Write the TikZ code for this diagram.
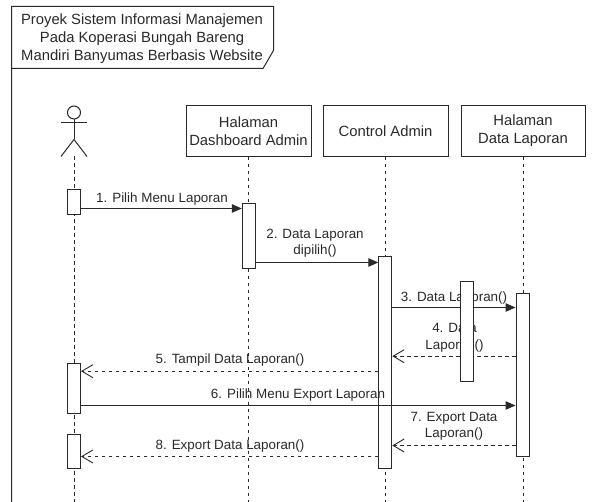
\documentclass[tikz,border=0pt]{standalone}
\usepackage{fontspec}
\setmainfont{Liberation Sans}
\usetikzlibrary{arrows.meta}
\definecolor{ink}{HTML}{2A2A2A}
\tikzset{
  x=1pt,y=-1pt,
  head/.style={draw=ink,line width=1pt,fill=white,inner sep=0pt,align=center,text=ink,font=\fontsize{14.8}{18}\selectfont},
  act/.style={draw=ink,line width=1pt,fill=white,inner sep=0pt,minimum width=13pt},
  life/.style={draw=ink,line width=1pt,dash pattern=on 3.5pt off 3.5pt},
  syncmsg/.style={draw=ink,line width=1pt,-{Triangle[length=10pt,width=8.5pt,fill=ink]}},
  retmsg/.style={draw=ink,line width=0.9pt,dash pattern=on 3.5pt off 3.5pt,-{Straight Barb[length=11pt,width=13pt,line width=0.9pt]}},
  lbl/.style={inner sep=0pt,align=center,text=ink,font=\fontsize{13.4}{16.5}\selectfont},
  frametxt/.style={inner sep=0pt,align=center,text=ink,font=\fontsize{14.8}{18}\selectfont},
  stick/.style={draw=ink,line width=1pt}
}
\begin{document}
\begin{tikzpicture}
\useasboundingbox[fill=white] (0,-0.5) rectangle (598,501.5);
% frame
\coordinate (fbl) at (11.5,501.5);
\coordinate (ftl) at (11.5,6);
\coordinate (ftr) at (273.5,6);
\coordinate (fnr) at (273.5,50);
\coordinate (fnb) at (263,68);
\coordinate (fnl) at (11.5,68);
\draw[stick] (fbl) -- (ftl) -- (ftr) -- (fnr) -- (fnb) -- (fnl);
\node[frametxt] (title) at (142,38.5) {Proyek Sistem Informasi Manajemen\\Pada Koperasi Bungah Bareng\\Mandiri Banyumas Berbasis Website};
% actor
\node[draw=ink,line width=1pt,circle,minimum size=13pt,inner sep=0pt] (ahead) at (74,112) {};
\coordinate (aneck) at (74,139);
\coordinate (aarml) at (61,122);
\coordinate (aarmr) at (87,122);
\coordinate (alegl) at (61,156);
\coordinate (alegr) at (87,156);
\coordinate (afoot) at (74,156);
\draw[stick] (ahead.south) -- (aneck);
\draw[stick] (aarml) -- (aarmr);
\draw[stick] (alegl) -- (aneck) -- (alegr);
% heads
\node[head,minimum width=125pt,minimum height=50.5pt] (hdash) at (248.5,130.5) {Halaman\\Dashboard Admin};
\node[head,minimum width=125pt,minimum height=50.5pt] (hctrl) at (385.5,130.5) {Control Admin};
\node[head,minimum width=124pt,minimum height=50.5pt] (hdata) at (523,130.5) {Halaman\\Data Laporan};
% lifeline ends
\coordinate (eact) at (74,501.5);
\coordinate (edash) at (248.5,501.5);
\coordinate (ectrl) at (385.5,501.5);
\coordinate (edata) at (523,501.5);
\draw[life] (afoot) -- (eact);
\draw[life] (hdash.south) -- (edash);
\draw[life] (hctrl.south) -- (ectrl);
\draw[life] (hdata.south) -- (edata);
% activations
\node[act,minimum height=25.5pt] (a1) at (74,201.7) {};
\node[act,minimum height=50pt] (a2) at (74,388) {};
\node[act,minimum height=34.5pt] (a3) at (74,451) {};
\node[act,minimum height=65pt] (bd) at (248.8,235.5) {};
\node[act,minimum height=212.5pt] (cc) at (385.3,362) {};
\node[act,minimum height=163pt] (ed) at (522.5,374.5) {};
% messages
\draw[syncmsg] (a1.east |- 0,208) -- (bd.west |- 0,208);
\node[lbl] (m1) at (162,198.2) {1. Pilih Menu Laporan};
\draw[syncmsg] (bd.east |- 0,262) -- (cc.west |- 0,262);
\node[lbl] (m2) at (315,242.5) {2. Data Laporan\\dipilih()};
\draw[syncmsg] (cc.east |- 0,307) -- (ed.west |- 0,307);
\node[lbl] (m3) at (454,297.2) {3. Data Laporan()};
\draw[retmsg] (ed.west |- 0,355.7) -- (cc.east |- 0,355.7);
\node[lbl] (m4) at (454.5,337.5) {4. Data\\Laporan()};
\draw[retmsg] (cc.west |- 0,370.7) -- (a2.east |- 0,370.7);
\node[lbl] (m5) at (230,359.2) {5. Tampil Data Laporan()};
\draw[syncmsg] (a2.east |- 0,405) -- (ed.west |- 0,405);
\node[lbl] (m6) at (298,394.2) {6. Pilih Menu Export Laporan};
\draw[retmsg] (ed.west |- 0,445) -- (cc.east |- 0,445);
\node[lbl] (m7) at (454,426) {7. Export Data\\Laporan()};
\draw[retmsg] (cc.west |- 0,456) -- (a3.east |- 0,456);
\node[lbl] (m8) at (230,445.2) {8. Export Data Laporan()};
% middle activation drawn over the label text
\node[act,minimum height=100pt] (dd) at (467.2,331) {};
\end{tikzpicture}
\end{document}
